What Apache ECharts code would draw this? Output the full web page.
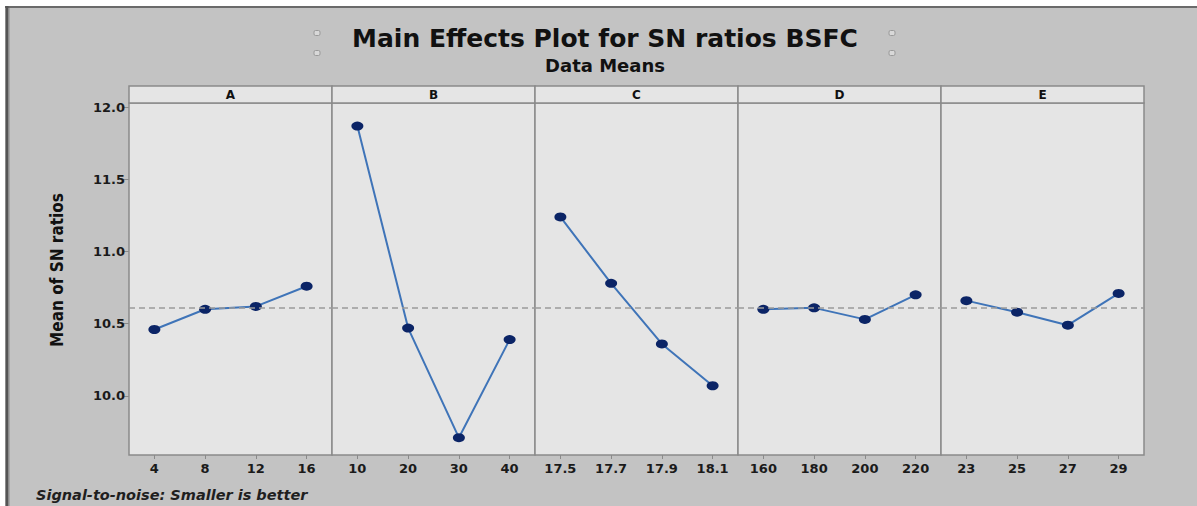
<!DOCTYPE html>
<html>
<head>
<meta charset="utf-8">
<script src="https://cdn.jsdelivr.net/npm/echarts@6/dist/echarts.min.js"></script>
<style>
  html, body { margin: 0; padding: 0; background: #fff; }
  #main { width: 1197px; height: 506px; }
</style>
</head>
<body>
<div id="main"></div>
<script>
// factor names and their levels
const factors = ['A', 'B', 'C', 'D', 'E'];
const levelsA = ['4', '8', '12', '16'];
const levelsB = ['10', '20', '30', '40'];
const levelsC = ['17.5', '17.7', '17.9', '18.1'];
const levelsD = ['160', '180', '200', '220'];
const levelsE = ['23', '25', '27', '29'];

// mean of SN ratios per level
const meansA = [10.46, 10.60, 10.62, 10.76];
const meansB = [11.87, 10.47, 9.71, 10.39];
const meansC = [11.24, 10.78, 10.36, 10.07];
const meansD = [10.60, 10.61, 10.53, 10.70];
const meansE = [10.66, 10.58, 10.49, 10.71];

const grandMean = 10.61;
const yTicks = [10.0, 10.5, 11.0, 11.5, 12.0];

const levels = [levelsA, levelsB, levelsC, levelsD, levelsE];
const means = [meansA, meansB, meansC, meansD, meansE];

// layout
const PLOT_LEFT = 129, PANEL_W = 203, PLOT_TOP = 103, PLOT_BOTTOM = 455, STRIP_TOP = 86;
const FRAME = '#8a8a8a';
const PANEL_BG = '#e5e5e5';
const LABEL_FONT = 'DejaVu Sans';

var chart = echarts.init(document.getElementById('main'), null, { renderer: 'svg' });

var grids = [], xAxes = [], yAxes = [], series = [], graphics = [];

// outer frame pieces
graphics.push(
  { type: 'rect', shape: { x: 0, y: 0, width: 1197, height: 6 }, style: { fill: '#fff' } },
  { type: 'rect', shape: { x: 0, y: 0, width: 5, height: 506 }, style: { fill: '#fff' } },
  { type: 'line', shape: { x1: 5, y1: 7, x2: 1197, y2: 7 }, style: { stroke: '#6a6a6a', lineWidth: 2 } },
  { type: 'line', shape: { x1: 7, y1: 6, x2: 7, y2: 506 }, style: { stroke: '#555', lineWidth: 3 } },
  { type: 'line', shape: { x1: 9.5, y1: 8, x2: 9.5, y2: 506 }, style: { stroke: '#a5a5a5', lineWidth: 1 } }
);

factors.forEach(function (f, i) {
  var left = PLOT_LEFT + i * PANEL_W;
  grids.push({
    left: left, top: PLOT_TOP, width: PANEL_W, height: PLOT_BOTTOM - PLOT_TOP,
    show: true, backgroundColor: PANEL_BG, borderColor: FRAME, borderWidth: 1.5
  });
  xAxes.push({
    type: 'category', gridIndex: i, data: levels[i], boundaryGap: true,
    axisLine: { show: false },
    axisTick: { show: true, alignWithLabel: true, length: 4, lineStyle: { color: FRAME } },
    axisLabel: { margin: 7, fontFamily: LABEL_FONT, fontWeight: 'bold', fontSize: 13, color: '#1a1a1a' },
    splitLine: { show: false }
  });
  var y = {
    type: 'value', gridIndex: i, min: 9.59, max: 12.03,
    axisLine: { show: false }, splitLine: { show: false },
    axisTick: { show: i === 0, customValues: yTicks, length: 6, lineStyle: { color: FRAME } },
    axisLabel: {
      show: i === 0, customValues: yTicks, margin: 4,
      fontFamily: LABEL_FONT, fontWeight: 'bold', fontSize: 13, color: '#1a1a1a',
      formatter: function (v) { return v.toFixed(1); }
    }
  };
  if (i === 0) {
    y.name = 'Mean of SN ratios';
    y.nameLocation = 'middle';
    y.nameGap = 64;
    y.nameTextStyle = {
      fontFamily: "'Liberation Sans Narrow', 'DejaVu Sans Condensed', sans-serif",
      fontWeight: 'bold', fontSize: 17, color: '#111', padding: [0, 0, 0, 18]
    };
  }
  yAxes.push(y);
  series.push({
    type: 'line', xAxisIndex: i, yAxisIndex: i, data: means[i],
    symbol: 'circle', symbolSize: [12, 9],
    itemStyle: { color: '#0b2466' },
    lineStyle: { color: '#3f74b8', width: 2 },
    markLine: {
      silent: true, symbol: ['none', 'none'],
      label: { show: false },
      lineStyle: { type: [6, 4], color: '#9a9a9a', width: 1.5 },
      data: [{ yAxis: grandMean }]
    }
  });
  // strip header above each panel
  graphics.push({
    type: 'rect',
    shape: { x: left, y: STRIP_TOP, width: PANEL_W, height: PLOT_TOP - STRIP_TOP },
    style: { fill: PANEL_BG, stroke: FRAME, lineWidth: 1.5 }
  });
  graphics.push({
    type: 'text', x: left + PANEL_W / 2, y: (STRIP_TOP + PLOT_TOP) / 2,
    style: { text: f, fill: '#111', font: 'bold 12px DejaVu Sans', textAlign: 'center', textVerticalAlign: 'middle' }
  });
});

// titles
graphics.push(
  { type: 'text', x: 605, y: 38, style: { text: 'Main Effects Plot for SN ratios BSFC', fill: '#111',
      font: 'bold 25px DejaVu Sans', textAlign: 'center', textVerticalAlign: 'middle' } },
  { type: 'text', x: 605, y: 65, style: { text: 'Data Means', fill: '#111',
      font: 'bold 18px DejaVu Sans', textAlign: 'center', textVerticalAlign: 'middle' } },
  { type: 'text', x: 36, y: 495, style: { text: 'Signal-to-noise: Smaller is better', fill: '#1f1f1f',
      font: 'italic bold 14.5px DejaVu Sans', textAlign: 'left', textVerticalAlign: 'middle' } }
);

// little selection handles beside the title
[[317, 33], [317, 53], [892, 33], [892, 53]].forEach(function (p) {
  graphics.push({
    type: 'rect', shape: { x: p[0] - 3, y: p[1] - 2.5, width: 6, height: 5, r: 1.5 },
    style: { fill: '#d8d8d8', stroke: '#9a9a9a', lineWidth: 1 }
  });
});

var option = {
  animation: false,
  backgroundColor: '#c3c3c3',
  grid: grids,
  xAxis: xAxes,
  yAxis: yAxes,
  series: series,
  graphic: graphics
};
chart.setOption(option);
</script>
</body>
</html>
